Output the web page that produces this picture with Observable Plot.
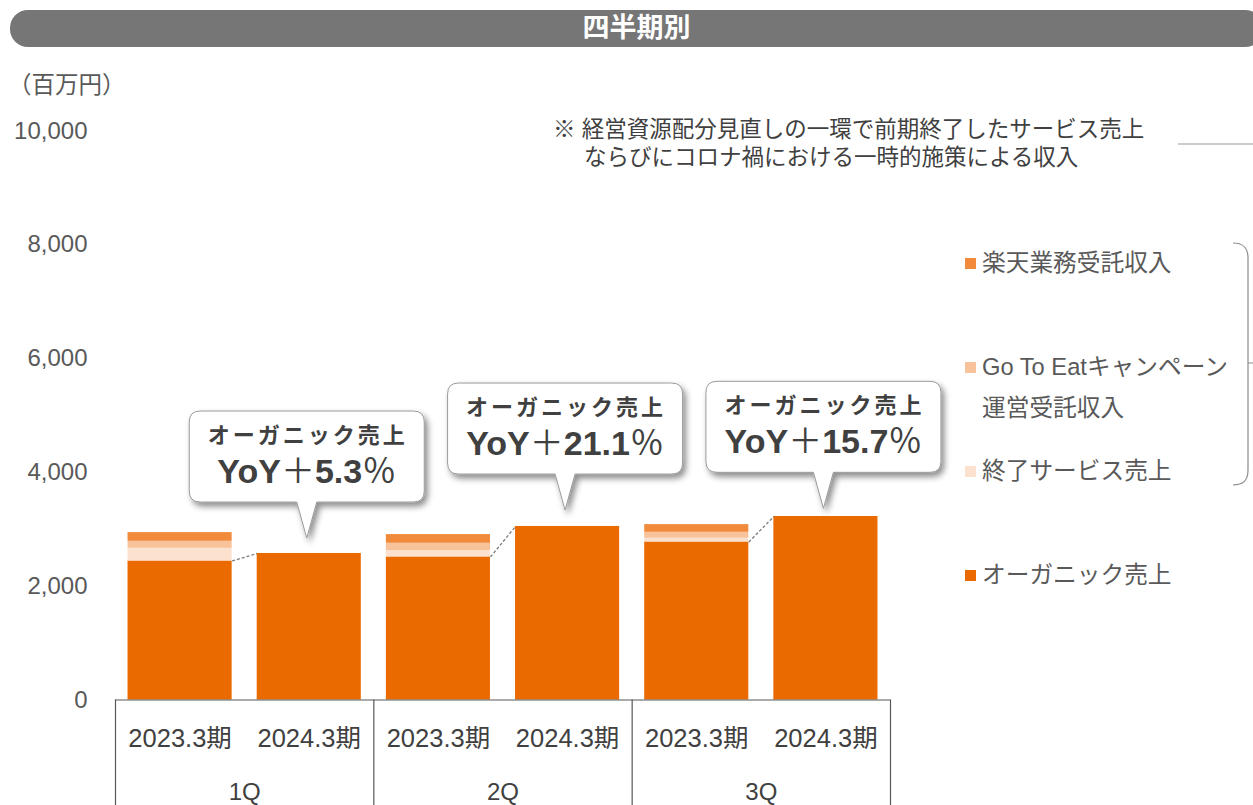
<!DOCTYPE html>
<html>
<head>
<meta charset="utf-8">
<script src="https://cdn.jsdelivr.net/npm/d3@7"></script>
<script src="https://cdn.jsdelivr.net/npm/@observablehq/plot@0.6"></script>
<style>
  html, body { margin: 0; padding: 0; background: #fff; overflow: hidden; }
  #wrap { position: relative; width: 1253px; height: 805px; overflow: hidden;
          font-family: "Liberation Sans", "Noto Sans CJK JP", sans-serif; color: #595959; }
  #chart { position: absolute; left: 0; top: 0; }
  .abs { position: absolute; white-space: nowrap; }
  #titlebar { left: 10px; top: 10px; width: 1253px; height: 37px; border-radius: 18px;
              background: #767676; color: #fff; font-weight: bold; font-size: 27px;
              line-height: 37px; text-align: center; }
  #unit { left: 8px; top: 71px; font-size: 23.5px; line-height: 28px; color: #595959; }
  .note { font-size: 22.5px; line-height: 28px; color: #404040; }
  .leg { font-size: 23.7px; line-height: 28px; color: #595959; }
  .sw { position: absolute; width: 11px; height: 11px; }
  #deco { position: absolute; left: 0; top: 0; pointer-events: none; }
</style>
</head>
<body>
<div id="wrap">
  <div id="chart"></div>
  <div id="titlebar" class="abs">四半期別</div>
  <div id="unit" class="abs">（百万円）</div>
  <div class="abs note" style="left:553px; top:116px;">※ 経営資源配分見直しの一環で前期終了したサービス売上</div>
  <div class="abs note" style="left:584px; top:144px;">ならびにコロナ禍における一時的施策による収入</div>
  <div id="legend"></div>
  <svg id="deco" width="1253" height="805">
    <line x1="1178" y1="144" x2="1253" y2="144" stroke="#9a9a9a" stroke-width="1.2"/>
    <path d="M1233,243 C1244,243 1248,248 1248,258 L1248,470 C1248,480 1244,485 1233,485 M1248,363 L1253,363"
          fill="none" stroke="#8c8c8c" stroke-width="1.2"/>
  </svg>
</div>
<script>
// ---------- data ----------
const quarters = ["1Q", "2Q", "3Q"];
const periods = ["2023.3期", "2024.3期"];
const seriesNames = ["オーガニック売上", "終了サービス売上", "Go To Eatキャンペーン運営受託収入", "楽天業務受託収入"];
// bar order: 1Q-2023, 1Q-2024, 2Q-2023, 2Q-2024, 3Q-2023, 3Q-2024
const organic = [2443, 2575, 2514, 3050, 2777, 3225];
const endedServices = [223, 0, 112, 0, 65, 0];
const goToEat = [123, 0, 128, 0, 105, 0];
const rakuten = [153, 0, 153, 0, 135, 0];
const yoyLabels = ["5.3", "21.1", "15.7"];
const bubbleTipValues = [2838, 3330, 3360];   // y value (百万円) where each callout's pointer ends
const yTicks = [0, 2000, 4000, 6000, 8000, 10000];
const colors = ["#EB6A00", "#FCE1CE", "#F8C29A", "#F28A3C"];

// ---------- build table ----------
const seriesValues = [organic, endedServices, goToEat, rakuten];
const rows = [];
for (let i = 0; i < organic.length; i++) {
  let base = 0;
  seriesValues.forEach((vals, s) => {
    const v = vals[i];
    if (v > 0) rows.push({i, series: seriesNames[s], y1: base, y2: base + v});
    base += v;
  });
}
const barLabels = organic.map((_, i) => ({i, label: periods[i % 2]}));
const qLabels = quarters.map((q, k) => ({k, label: q}));
const links = quarters.map((q, k) => ({k, a: organic[2 * k], b: organic[2 * k + 1]}));

const pad = 0.097;

function bubbles(index, scales) {
  const g = d3.create("svg:g");
  const defs = g.append("defs");
  const f = defs.append("filter").attr("id", "bshadow").attr("x", "-20%").attr("y", "-20%").attr("width", "140%").attr("height", "150%");
  f.append("feDropShadow").attr("dx", 3).attr("dy", 4).attr("stdDeviation", 3)
    .attr("flood-color", "#000").attr("flood-opacity", 0.45);
  quarters.forEach((q, k) => {
    const cx = scales.x(2 * k + 1.5) - 2;
    const tip = scales.y(bubbleTipValues[k]);
    const w = 235, top = tip - 127, bot = tip - 36, r = 11;
    const l = cx - w / 2, rt = cx + w / 2;
    const d = `M${l + r},${top} L${rt - r},${top} Q${rt},${top} ${rt},${top + r} L${rt},${bot - r} Q${rt},${bot} ${rt - r},${bot}` +
      ` L${cx + 10},${bot} L${cx},${tip} L${cx - 10},${bot} L${l + r},${bot} Q${l},${bot} ${l},${bot - r} L${l},${top + r} Q${l},${top} ${l + r},${top} Z`;
    g.append("path").attr("d", d).attr("fill", "#fff").attr("stroke", "#9a9a9a").attr("stroke-width", 1)
      .attr("filter", "url(#bshadow)");
    g.append("text").attr("x", cx + 1).attr("y", top + 24.5).attr("text-anchor", "middle").attr("dominant-baseline", "central")
      .attr("font-size", 22).attr("font-weight", "bold").attr("letter-spacing", "3px").attr("fill", "#404040")
      .text("オーガニック売上");
    const t2 = g.append("text").attr("x", cx).attr("y", top + 60).attr("text-anchor", "middle").attr("dominant-baseline", "central")
      .attr("font-size", 34).attr("font-weight", "bold").attr("fill", "#404040");
    t2.append("tspan").text("YoY");
    t2.append("tspan").attr("font-weight", "normal").text("＋");
    t2.append("tspan").text(yoyLabels[k]);
    t2.append("tspan").attr("font-weight", "normal").text("％");
  });
  return g.node();
}

const chart = Plot.plot({
  width: 1253,
  height: 805,
  marginLeft: 115,
  marginRight: 363,
  marginTop: 130.5,
  marginBottom: 105.5,
  style: {fontFamily: '"Liberation Sans", "Noto Sans CJK JP", sans-serif', color: "#595959", overflow: "visible", background: "transparent"},
  x: {type: "linear", domain: [0, 6], axis: null},
  y: {domain: [0, 10000], axis: null},
  color: {domain: seriesNames, range: colors},
  marks: [
    Plot.axisY({ticks: yTicks, tickSize: 0, tickPadding: 28, fontSize: 24, tickFormat: d3.format(","), label: null}),
    Plot.rect(rows, {x1: d => d.i + pad, x2: d => d.i + 1 - pad, y1: "y1", y2: "y2", fill: "series"}),
    Plot.link(links, {x1: d => 2 * d.k + 1 - pad, y1: "a", x2: d => 2 * d.k + 1 + pad, y2: "b",
      stroke: "#7a7a7a", strokeWidth: 1.3, strokeDasharray: "3,2"}),
    Plot.ruleY([0], {x1: 0, x2: 6, stroke: "#595959", strokeWidth: 1.2}),
    Plot.ruleX([0, 2, 4, 6], {y1: 0, y2: -1950, stroke: "#595959", strokeWidth: 1.2}),
    Plot.text(barLabels, {x: d => d.i + 0.5, y: () => 0, dy: 39, text: "label", fontSize: 25.5, fill: "#404040"}),
    Plot.text(qLabels, {x: d => 2 * d.k + 1, y: () => 0, dy: 92, text: "label", fontSize: 24, fill: "#404040"}),
    bubbles
  ]
});
document.getElementById("chart").appendChild(chart);

// ---------- legend ----------
const legendItems = [
  {name: "楽天業務受託収入", color: colors[3], y: 263, lines: ["楽天業務受託収入"]},
  {name: "Go To Eatキャンペーン運営受託収入", color: colors[2], y: 367, lines: ["Go To Eatキャンペーン", "運営受託収入"]},
  {name: "終了サービス売上", color: colors[1], y: 471, lines: ["終了サービス売上"]},
  {name: "オーガニック売上", color: colors[0], y: 575, lines: ["オーガニック売上"]}
];
const legend = document.getElementById("legend");
legendItems.forEach(it => {
  const sw = document.createElement("div");
  sw.className = "sw";
  sw.style.left = "965px";
  sw.style.top = (it.y - 5.5) + "px";
  sw.style.background = it.color;
  legend.appendChild(sw);
  it.lines.forEach((ln, j) => {
    const t = document.createElement("div");
    t.className = "abs leg";
    t.style.left = "982px";
    t.style.top = (it.y - 14 + j * 41) + "px";
    t.textContent = ln;
    legend.appendChild(t);
  });
});
</script>
</body>
</html>
